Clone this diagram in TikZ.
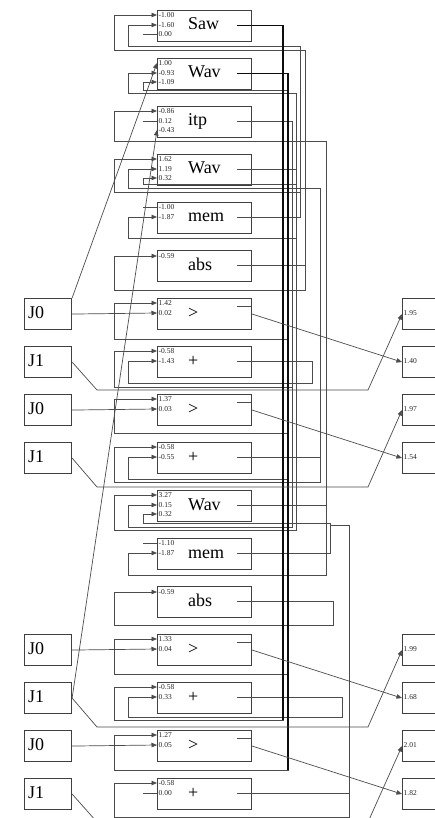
\documentclass[tikz,border=0pt]{standalone}
\usepackage{fontspec}
\setmainfont{Liberation Serif}
\usetikzlibrary{arrows.meta}

\begin{document}
\begin{tikzpicture}[x=1pt,y=-1pt,
  blk/.style={draw=black!75,line width=1.1pt,minimum width=94pt,minimum height=31pt,inner sep=0pt,anchor=north west},
  jbox/.style={blk,minimum width=47pt},
  obox/.style={blk,minimum width=45pt},
  fn/.style={anchor=base west,inner sep=0pt,font=\fontsize{18}{20}\selectfont},
  val/.style={anchor=west,inner sep=0pt,text=black!85,font=\fontsize{7.5}{8}\selectfont},
  wire/.style={draw=black!70,line width=0.7pt},
  bus/.style={draw=black!95,line width=1.1pt},
  feed/.style={-{Triangle[length=5.5pt,width=4.5pt]}}]
\useasboundingbox (0,0) rectangle (435,818);
\fill[white] (0,0) rectangle (435,818);
\clip (0,0) rectangle (435,818);

% function blocks, top to bottom
\node[blk] (r1) at (157,10) {}; \node[fn] (f1) at (188,30) {Saw};
\coordinate (r1a) at (157,15); \coordinate (r1b) at (157,25); \coordinate (r1c) at (157,34); \coordinate (k1c) at (143,34);
\node[val] (v1a) at (158.5,15) {-1.00}; \node[val] (v1b) at (158.5,25) {-1.60}; \node[val] (v1c) at (158.5,34) {0.00};
\coordinate (r1s) at (237,25.5);

\node[blk] (r2) at (157,58) {}; \node[fn] (f2) at (188,78) {Wav};
\coordinate (r2a) at (157,63); \coordinate (r2b) at (157,73); \coordinate (r2c) at (157,82);
\node[val] (v2a) at (158.5,63) {1.00}; \node[val] (v2b) at (158.5,73) {-0.93}; \node[val] (v2c) at (158.5,82) {-1.09};
\coordinate (r2s) at (237,73.5);

\node[blk] (r3) at (157,106) {}; \node[fn] (f3) at (188,126) {itp};
\coordinate (r3a) at (157,111); \coordinate (r3b) at (157,121); \coordinate (r3c) at (157,130); \coordinate (k3b) at (143,121);
\node[val] (v3a) at (158.5,111) {-0.86}; \node[val] (v3b) at (158.5,121) {0.12}; \node[val] (v3c) at (158.5,130) {-0.43};
\coordinate (r3s) at (237,121.5);

\node[blk] (r4) at (157,154) {}; \node[fn] (f4) at (188,174) {Wav};
\coordinate (r4a) at (157,159); \coordinate (r4b) at (157,169); \coordinate (r4c) at (157,178);
\node[val] (v4a) at (158.5,159) {1.62}; \node[val] (v4b) at (158.5,169) {1.19}; \node[val] (v4c) at (158.5,178) {0.32};
\coordinate (r4s) at (237,169.5);

\node[blk] (r5) at (157,202) {}; \node[fn] (f5) at (188,222) {mem};
\coordinate (r5a) at (157,207); \coordinate (r5b) at (157,217); \coordinate (k5a) at (143,207);
\node[val] (v5a) at (158.5,207) {-1.00}; \node[val] (v5b) at (158.5,217) {-1.87};
\coordinate (r5s) at (237,217.5);

\node[blk] (r6) at (157,250) {}; \node[fn] (f6) at (188,270) {abs};
\coordinate (r6a) at (157,256);
\node[val] (v6a) at (158.5,256) {-0.59};
\coordinate (r6s) at (237,265.5);

\node[blk] (r7) at (157,298) {}; \node[fn] (f7) at (188,318) {>};
\coordinate (r7a) at (157,303); \coordinate (r7b) at (157,313);
\node[val] (v7a) at (158.5,303) {1.42}; \node[val] (v7b) at (158.5,313) {0.02};
\coordinate (r7s) at (237,306);

\node[blk] (r8) at (157,346) {}; \node[fn] (f8) at (188,366) {+};
\coordinate (r8a) at (157,351); \coordinate (r8b) at (157,361);
\node[val] (v8a) at (158.5,351) {-0.58}; \node[val] (v8b) at (158.5,361) {-1.43};
\coordinate (r8s) at (237,361.5);

\node[blk] (r9) at (157,394) {}; \node[fn] (f9) at (188,414) {>};
\coordinate (r9a) at (157,399); \coordinate (r9b) at (157,409);
\node[val] (v9a) at (158.5,399) {1.37}; \node[val] (v9b) at (158.5,409) {0.03};
\coordinate (r9s) at (237,402);

\node[blk] (r10) at (157,442) {}; \node[fn] (f10) at (188,462) {+};
\coordinate (r10a) at (157,447); \coordinate (r10b) at (157,457);
\node[val] (v10a) at (158.5,447) {-0.58}; \node[val] (v10b) at (158.5,457) {-0.55};
\coordinate (r10s) at (237,457.5);

\node[blk] (r11) at (157,490) {}; \node[fn] (f11) at (188,510) {Wav};
\coordinate (r11a) at (157,495); \coordinate (r11b) at (157,505); \coordinate (r11c) at (157,514);
\node[val] (v11a) at (158.5,495) {3.27}; \node[val] (v11b) at (158.5,505) {0.15}; \node[val] (v11c) at (158.5,514) {0.32};
\coordinate (r11s) at (237,505.5);

\node[blk] (r12) at (157,538) {}; \node[fn] (f12) at (188,558) {mem};
\coordinate (r12a) at (157,543); \coordinate (r12b) at (157,553); \coordinate (k12a) at (143,543);
\node[val] (v12a) at (158.5,543) {-1.10}; \node[val] (v12b) at (158.5,553) {-1.87};
\coordinate (r12s) at (237,553.5);

\node[blk] (r13) at (157,586) {}; \node[fn] (f13) at (188,606) {abs};
\coordinate (r13a) at (157,592);
\node[val] (v13a) at (158.5,592) {-0.59};
\coordinate (r13s) at (237,601.5);

\node[blk] (r14) at (157,634) {}; \node[fn] (f14) at (188,654) {>};
\coordinate (r14a) at (157,639); \coordinate (r14b) at (157,649);
\node[val] (v14a) at (158.5,639) {1.33}; \node[val] (v14b) at (158.5,649) {0.04};
\coordinate (r14s) at (237,642);

\node[blk] (r15) at (157,682) {}; \node[fn] (f15) at (188,702) {+};
\coordinate (r15a) at (157,687); \coordinate (r15b) at (157,697);
\node[val] (v15a) at (158.5,687) {-0.58}; \node[val] (v15b) at (158.5,697) {0.33};
\coordinate (r15s) at (237,697.5);

\node[blk] (r16) at (157,730) {}; \node[fn] (f16) at (188,750) {>};
\coordinate (r16a) at (157,735); \coordinate (r16b) at (157,745);
\node[val] (v16a) at (158.5,735) {1.27}; \node[val] (v16b) at (158.5,745) {0.05};
\coordinate (r16s) at (237,738);

\node[blk] (r17) at (157,778) {}; \node[fn] (f17) at (188,798) {+};
\coordinate (r17a) at (157,783); \coordinate (r17b) at (157,793); \coordinate (k17b) at (143,793);
\node[val] (v17a) at (158.5,783) {-0.58}; \node[val] (v17b) at (158.5,793) {0.00};
\coordinate (r17s) at (237,793.5);

% joystick inputs
\node[jbox] (j7) at (24,298) {}; \node[fn] (t7) at (28,318) {J0};
\node[jbox] (j8) at (24,346) {}; \node[fn] (t8) at (28,366) {J1};
\node[jbox] (j9) at (24,394) {}; \node[fn] (t9) at (28,414) {J0};
\node[jbox] (j10) at (24,442) {}; \node[fn] (t10) at (28,462) {J1};
\node[jbox] (j14) at (24,634) {}; \node[fn] (t14) at (28,654) {J0};
\node[jbox] (j15) at (24,682) {}; \node[fn] (t15) at (28,702) {J1};
\node[jbox] (j16) at (24,730) {}; \node[fn] (t16) at (28,750) {J0};
\node[jbox] (j17) at (24,778) {}; \node[fn] (t17) at (28,798) {J1};

% outputs
\node[obox] (o7) at (402,298) {}; \node[val] (w7) at (403.5,313.5) {1.95};
\node[obox] (o8) at (402,346) {}; \node[val] (w8) at (403.5,361.5) {1.40};
\node[obox] (o9) at (402,394) {}; \node[val] (w9) at (403.5,409.5) {1.97};
\node[obox] (o10) at (402,442) {}; \node[val] (w10) at (403.5,457.5) {1.54};
\node[obox] (o14) at (402,634) {}; \node[val] (w14) at (403.5,649.5) {1.99};
\node[obox] (o15) at (402,682) {}; \node[val] (w15) at (403.5,697.5) {1.68};
\node[obox] (o16) at (402,730) {}; \node[val] (w16) at (403.5,745.5) {2.01};
\node[obox] (o17) at (402,778) {}; \node[val] (w17) at (403.5,793.5) {1.82};

% constant inputs
\draw[wire] (k1c) -- (r1c);
\draw[wire] (k3b) -- (r3b);
\draw[wire] (k5a) -- (r5a);
\draw[wire] (k12a) -- (r12a);
\draw[wire] (k17b) -- (r17b);

% comparator stubs
\draw[wire] (r7s) -- (r7s -| r7.east);
\draw[wire] (r9s) -- (r9s -| r9.east);
\draw[wire] (r14s) -- (r14s -| r14.east);
\draw[wire] (r16s) -- (r16s -| r16.east);

% feedback wiring
\draw[wire,feed] (r1s) -| (283,720) -| (114,687) -- (r15a);
\draw[wire,feed] (r2s) -| (288,90) -| (143,82) -- (r2c);
\draw[wire,feed] (r2s) -| (288,339) -| (114,303) -- (r7a);
\draw[wire,feed] (r2s) -| (288,433) -| (114,399) -- (r9a);
\draw[wire,feed] (r2s) -| (288,479) -| (128,457) -- (r10b);
\draw[wire,feed] (r2s) -| (288,674) -| (114,639) -- (r14a);
\draw[wire,feed] (r2s) -| (288,770) -| (114,735) -- (r16a);
\draw[wire,feed] (r3s) -| (292,387) -| (114,351) -- (r8a);
\draw[wire,feed] (r3s) -| (292,527) -| (128,505) -- (r11b);
\draw[wire,feed] (r4s) -| (296,93) -| (128,73) -- (r2b);
\draw[wire,feed] (r4s) -| (296,184) -| (143,178) -- (r4c);
\draw[wire,feed] (r4s) -| (296,238) -| (128,217) -- (r5b);
\draw[wire,feed] (r4s) -| (296,530) -| (114,495) -- (r11a);
\draw[wire,feed] (r5s) -| (300,46) -| (128,25) -- (r1b);
\draw[wire,feed] (r5s) -| (300,192) -| (114,159) -- (r4a);
\draw[wire,feed] (r6s) -| (305,50) -| (114,15) -- (r1a);
\draw[wire,feed] (r6s) -| (305,290) -| (114,256) -- (r6a);
\draw[wire,feed] (r8s) -| (312,383) -| (128,361) -- (r8b);
\draw[wire,feed] (r10s) -| (320,482) -| (114,447) -- (r10a);
\draw[wire,feed] (r10s) -| (320,188) -| (128,169) -- (r4b);
\draw[wire,feed] (r11s) -| (326,141) -| (114,111) -- (r3a);
\draw[wire,feed] (r11s) -| (326,575) -| (128,553) -- (r12b);
\draw[wire,feed] (r12s) -| (330,523) -| (143,514) -- (r11c);
\draw[wire,feed] (r13s) -| (333,625) -| (114,592) -- (r13a);
\draw[wire,feed] (r15s) -| (342,717) -| (128,697) -- (r15b);
\draw[wire,feed] (r17s) -| (349,817) -| (114,783) -- (r17a);
\draw[wire] (r17s) -| (349,525) -- (330,525);

% heavy trunks of the two oscillators
\coordinate (b1) at (283,720); \coordinate (b2) at (288,770);
\draw[bus] (r1s) -| (b1);
\draw[bus] (r2s) -| (b2);

% joystick feeds
\draw[wire,feed] (j7.east) -- (r7b);
\draw[wire,feed] (j7.north east) -- (r2a);
\draw[wire,feed] (j9.east) -- (r9b);
\draw[wire,feed] (j14.east) -- (r14b);
\draw[wire,feed] (j16.east) -- (r16b);
\draw[wire,feed] (j15.east) -- (r3c);
\draw[wire,feed] (j8.east) -- (97,390) -- (368,390) -- (o7.west);
\draw[wire,feed] (j10.east) -- (97,487) -- (368,487) -- (o9.west);
\draw[wire,feed] (j15.east) -- (97,727) -- (368,727) -- (o14.west);
\draw[wire,feed] (j17.east) -- (97,822) -- (368,822) -- (o16.west);

% comparator results
\draw[wire,feed] (r7.east) -- (o8.west);
\draw[wire,feed] (r9.east) -- (o10.west);
\draw[wire,feed] (r14.east) -- (o15.west);
\draw[wire,feed] (r16.east) -- (o17.west);
\end{tikzpicture}
\end{document}
